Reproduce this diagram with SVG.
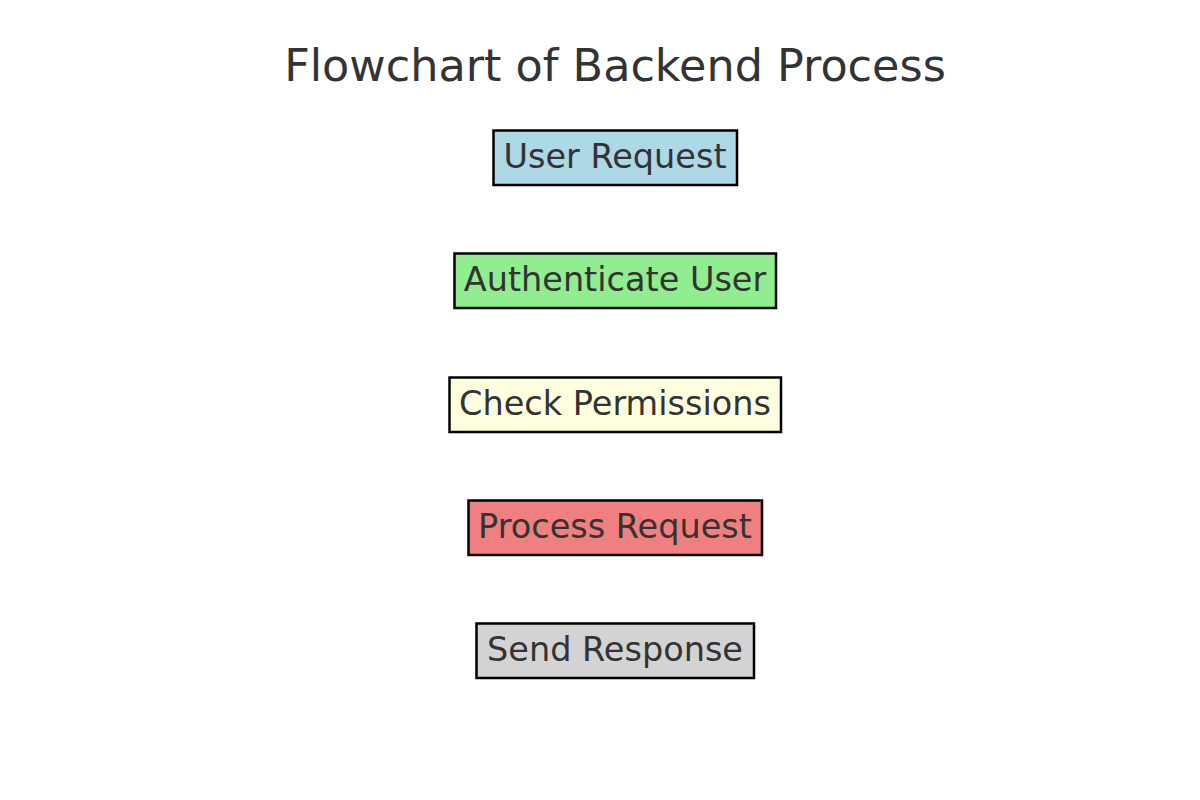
<svg xmlns="http://www.w3.org/2000/svg" width="1200" height="800" viewBox="0 0 1200 800">
<style>
text{font-family:"DejaVu Sans","Liberation Sans",sans-serif;fill:#333333;text-anchor:middle}
.lbl{font-size:33.5px}
.title{font-size:44.5px}
.box{stroke:#000000;stroke-width:2.5}
</style>
<rect x="0" y="0" width="1200" height="800" fill="#ffffff"/>
<text class="title" x="615" y="81">Flowchart of Backend Process</text>
<g id="connectors"></g>
<g id="user-request"><rect class="box" x="493.5" y="130.5" width="243.5" height="54.5" fill="#add8e6"/><text class="lbl" x="615" y="168">User Request</text></g>
<g id="authenticate-user"><rect class="box" x="454.5" y="253.5" width="321.5" height="54.5" fill="#90ee90"/><text class="lbl" x="615" y="291">Authenticate User</text></g>
<g id="check-permissions"><rect class="box" x="449.5" y="377.5" width="331.5" height="54.5" fill="#ffffe0"/><text class="lbl" x="615" y="415">Check Permissions</text></g>
<g id="process-request"><rect class="box" x="468.5" y="500.5" width="293.5" height="54.5" fill="#f08080"/><text class="lbl" x="615" y="538">Process Request</text></g>
<g id="send-response"><rect class="box" x="476.5" y="623.5" width="277.5" height="54.5" fill="#d3d3d3"/><text class="lbl" x="615" y="661">Send Response</text></g>
</svg>
